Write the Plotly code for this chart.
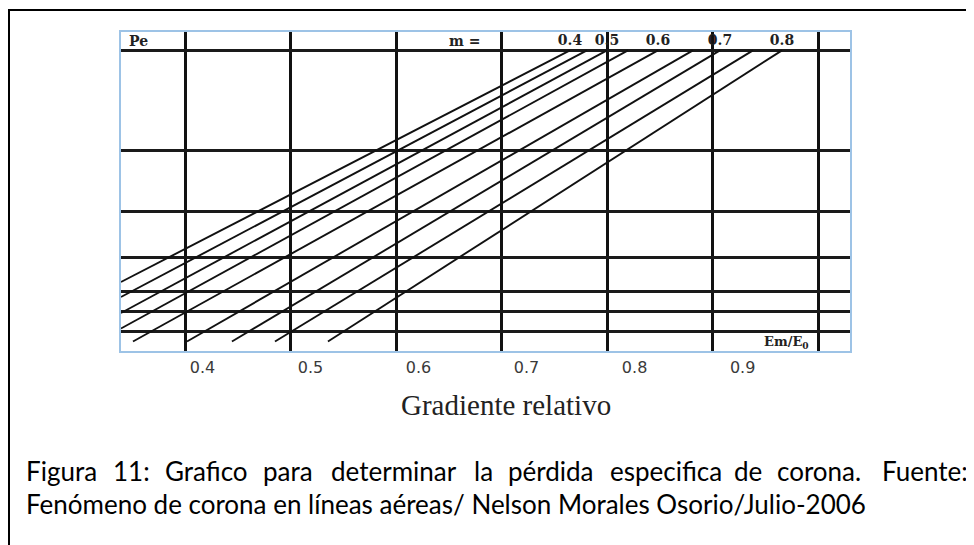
import plotly.graph_objects as go

# ---- data ----
# parameter m of each straight curve (only every other one is labelled)
m_values = [0.4, 0.45, 0.5, 0.55, 0.6, 0.65, 0.7, 0.75, 0.8]
m_labels = ["0.4", "", "0.5", "", "0.6", "", "0.7", "", "0.8"]
# lower and upper end points of each curve (x = Em/E0, y = relative Pe units)
curve_x_start = [0.3393, 0.3393, 0.3393, 0.3393, 0.3507, 0.4019, 0.4445, 0.4853, 0.5355]
curve_y_start = [69.0, 54.0, 38.0, 22.5, 9.5, 9.5, 9.5, 9.5, 9.5]
curve_x_end = [0.7649, 0.7810, 0.8000, 0.8199, 0.8483, 0.8815, 0.9071, 0.9384, 0.9659]
curve_y_end = [300.6, 300.6, 300.6, 300.6, 300.6, 300.6, 300.6, 300.6, 300.6]

# grid of the nomogram
x_grid = [0.4, 0.5, 0.6, 0.7, 0.8, 0.9, 1.0]
pe_grid = [20, 40, 60, 93.4, 140, 201, 300.6]

# tick labels printed under the chart
tick_vals = [0.4, 0.5, 0.6, 0.7, 0.8, 0.9]
tick_labels = ["0.4", "0.5", "0.6", "0.7", "0.8", "0.9"]

# caption (first line is justified in the source)
caption_line1 = ["Figura", "11:", "Grafico", "para", "determinar", "la", "pérdida",
                 "especifica", "de", "corona.", "Fuente:"]
caption_line2 = "Fenómeno de corona en líneas aéreas/ Nelson Morales Osorio/Julio-2006"

x_range = [0.33934, 1.03033]
y_range = [0, 319]

# page body has an 8px margin: the figure is sized to fit the window
FIG_W, FIG_H = 966, 537
OFF = 8
PL, PR, PT, PB = 121, 850, 32, 351  # plot area in window pixels


def px_x(px):
    return (px - PL) / (PR - PL)


def px_y(py):
    return (PB - py) / (PB - PT)


fig = go.Figure()

for xs, ys, xe, ye in zip(curve_x_start, curve_y_start, curve_x_end, curve_y_end):
    fig.add_trace(go.Scatter(
        x=[xs, xe], y=[ys, ye], mode="lines",
        line=dict(color="#111111", width=1.9),
        showlegend=False, hoverinfo="skip"))

serif_bold = dict(family="DejaVu Serif", size=14, color="#222222")

# m labels at the top end of the labelled curves
lab_x = [x for x, t in zip(curve_x_end, m_labels) if t]
lab_t = ["<b>%s</b>" % t for t in m_labels if t]
fig.add_trace(go.Scatter(
    x=lab_x, y=[309.8] * len(lab_x), mode="text", text=lab_t,
    textfont=serif_bold, textposition="middle center",
    showlegend=False, hoverinfo="skip"))

# invisible trace carrying the label axis
fig.add_trace(go.Scatter(x=[None], y=[None], xaxis="x2", yaxis="y",
                         showlegend=False, hoverinfo="skip"))

cap_font = dict(family="Lato", size=26, color="#000000")

annotations = [
    dict(text="<b>Pe</b>", xref="paper", yref="y", x=0, y=309.8, xanchor="left",
         yanchor="middle", xshift=6, showarrow=False, font=serif_bold),
    dict(text="<b>m =</b>", xref="x", yref="y", x=0.665, y=309.8, xanchor="center",
         yanchor="middle", showarrow=False, font=serif_bold),
    dict(text="<b>Em/E<sub>0</sub></b>", xref="x", yref="y", x=0.993, y=9.0,
         xanchor="right", yanchor="middle", showarrow=False,
         font=dict(family="DejaVu Serif", size=13, color="#222222")),
    dict(text="Gradiente relativo", xref="paper", yref="paper", x=px_x(506), y=px_y(405),
         xanchor="center", yanchor="middle", showarrow=False,
         font=dict(family="Liberation Serif", size=29, color="#222222")),
    dict(text=caption_line2, xref="paper", yref="paper", x=px_x(24), y=px_y(504),
         xanchor="left", yanchor="middle", showarrow=False, font=cap_font),
]

# justified first caption line: word starts spread evenly across the text width
word_left = [24, 111, 163, 261, 329, 472, 506, 608, 732, 775, 880]
for w, left in zip(caption_line1, word_left):
    annotations.append(dict(
        text=w, xref="paper", yref="paper", x=px_x(left), y=px_y(471),
        xanchor="left", yanchor="middle", showarrow=False, font=cap_font))

fig.update_layout(
    width=FIG_W, height=FIG_H, autosize=False,
    margin=dict(l=PL - OFF, r=OFF + FIG_W - PR, t=PT - OFF, b=OFF + FIG_H - PB),
    paper_bgcolor="white", plot_bgcolor="white",
    showlegend=False,
    xaxis=dict(range=x_range, tickvals=x_grid, showticklabels=False, ticks="",
               showgrid=True, gridcolor="#111111", gridwidth=3, zeroline=False,
               showline=True, mirror=True, linecolor="#9dc3e6", linewidth=2),
    xaxis2=dict(range=[0.3246, 0.9994], overlaying="x", anchor="y", side="bottom",
                tickvals=tick_vals, ticktext=tick_labels, ticks="", showgrid=False,
                zeroline=False, showline=False, ticklabelstandoff=5,
                tickfont=dict(family="DejaVu Sans", size=16, color="#3a3a3a")),
    yaxis=dict(range=y_range, tickvals=pe_grid, showticklabels=False, ticks="",
               showgrid=True, gridcolor="#1a1a1a", gridwidth=2.5, zeroline=False,
               showline=True, mirror=True, linecolor="#9dc3e6", linewidth=2),
    annotations=annotations,
    shapes=[dict(type="rect", xref="paper", yref="paper",
                 x0=px_x(9), x1=px_x(969), y0=px_y(600), y1=px_y(10),
                 line=dict(color="black", width=2), fillcolor="rgba(0,0,0,0)")],
)

fig.write_html("out.html")
